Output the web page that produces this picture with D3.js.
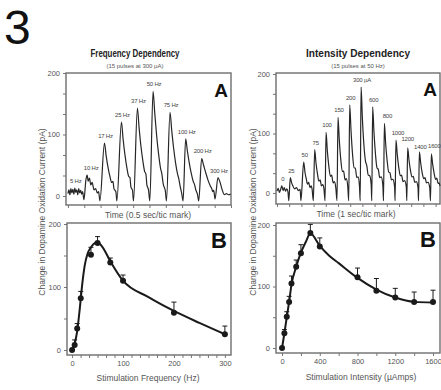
<!DOCTYPE html>
<html>
<head>
<meta charset="utf-8">
<script src="https://cdn.jsdelivr.net/npm/d3@7"></script>
<style>
  body { margin: 0; background: #fff; }
  svg { display: block; font-family: "Liberation Sans", Arial, sans-serif; }
</style>
</head>
<body>
<div id="chart"></div>
<script>
const WIDTH = 441;
const HEIGHT = 390;

// ---- panel A (left): concatenated oxidation-current traces, [time s, current pA]
const freqLabels = ['5 Hz', '10 Hz', '17 Hz', '25 Hz', '37 Hz', '50 Hz', '75 Hz', '100 Hz', '200 Hz', '300 Hz'];
const freqTraces = [
  [[0.0, 4], [0.03, 10], [0.06, 2], [0.09, 12], [0.12, 5], [0.15, 11], [0.18, 3], [0.21, 13], [0.24, 6], [0.27, 10], [0.30, 2], [0.33, 12], [0.36, 5], [0.39, 9], [0.42, 3], [0.45, 7]],
  [[0.49, -6], [0.55, 26], [0.59, 34], [0.62, 24], [0.66, 29], [0.70, 18], [0.74, 22], [0.80, 10], [0.85, 12], [0.90, 5], [0.94, 7]],
  [[0.98, -8], [1.12, 86], [1.17, 66], [1.23, 46], [1.29, 31], [1.34, 22], [1.38, 24], [1.41, 12], [1.47, 7]],
  [[1.50, -8], [1.64, 120], [1.69, 93], [1.75, 66], [1.81, 45], [1.86, 32], [1.90, 30], [1.93, 15], [1.98, 9]],
  [[2.01, -8], [2.13, 143], [2.18, 112], [2.24, 80], [2.30, 56], [2.35, 40], [2.39, 36], [2.42, 18], [2.47, 10]],
  [[2.51, -8], [2.61, 170], [2.66, 136], [2.72, 98], [2.78, 68], [2.84, 45], [2.88, 36], [2.92, 20], [2.99, 7]],
  [[3.02, -8], [3.13, 136], [3.18, 108], [3.24, 78], [3.30, 54], [3.36, 36], [3.40, 28], [3.44, 16], [3.49, 4]],
  [[3.53, -8], [3.61, 93], [3.66, 74], [3.72, 54], [3.78, 37], [3.84, 24], [3.88, 19], [3.92, 10], [3.97, 3]],
  [[4.01, -8], [4.10, 61], [4.16, 50], [4.23, 37], [4.30, 25], [4.37, 16], [4.41, 12], [4.44, 7], [4.47, 9]],
  [[4.51, -5], [4.60, 30], [4.66, 23], [4.73, 10], [4.80, 2], [4.86, 4], [4.92, 2], [4.99, 3]]
];
const freqTimeTicks = [0, 0.5, 1, 1.5, 2, 2.5, 3, 3.5, 4, 4.5, 5];

// ---- panel A (right)
const intLabels = ['0', '25', '50', '75', '100', '150', '200', '300 \u00b5A', '600', '800', '1000', '1200', '1400', '1600'];
const intTraces = [
  [[0.0, 3], [0.1, 8], [0.2, 1], [0.3, 6], [0.4, 12], [0.5, 4], [0.6, 9], [0.7, 3], [0.8, 7], [0.9, 2]],
  [[0.97, -13], [1.09, 26], [1.2, 17], [1.3, 12], [1.45, 7], [1.6, 9], [1.75, 4], [1.9, 6]],
  [[1.96, -13], [2.19, 52], [2.3, 34], [2.4, 24], [2.5, 15], [2.6, 18], [2.7, 9], [2.8, 12], [2.88, 6]],
  [[2.98, -13], [3.09, 73], [3.2, 50], [3.32, 32], [3.44, 20], [3.54, 22], [3.64, 12], [3.75, 14], [3.85, 7]],
  [[3.94, -13], [4.02, 102], [4.13, 70], [4.25, 45], [4.38, 28], [4.48, 30], [4.6, 17], [4.7, 19], [4.82, 9]],
  [[4.92, -13], [5.0, 127], [5.11, 88], [5.23, 56], [5.36, 36], [5.46, 37], [5.58, 22], [5.68, 24], [5.8, 11]],
  [[5.88, -13], [5.96, 148], [6.07, 104], [6.19, 66], [6.32, 42], [6.42, 42], [6.54, 26], [6.64, 27], [6.76, 12]],
  [[6.82, -13], [6.89, 178], [7.0, 125], [7.12, 82], [7.25, 54], [7.36, 46], [7.48, 30], [7.6, 29], [7.72, 14]],
  [[7.77, -13], [7.84, 145], [7.95, 102], [8.07, 66], [8.2, 42], [8.3, 40], [8.42, 26], [8.54, 27], [8.68, 12]],
  [[8.73, -13], [8.8, 117], [8.91, 82], [9.03, 54], [9.16, 35], [9.26, 34], [9.38, 22], [9.5, 23], [9.64, 10]],
  [[9.68, -13], [9.75, 89], [9.86, 64], [9.98, 43], [10.11, 29], [10.21, 30], [10.33, 19], [10.46, 21], [10.6, 10]],
  [[10.64, -13], [10.71, 76], [10.82, 55], [10.94, 38], [11.07, 27], [11.17, 28], [11.29, 18], [11.42, 19], [11.56, 9]],
  [[11.6, -13], [11.67, 69], [11.78, 50], [11.9, 34], [12.03, 24], [12.13, 26], [12.25, 17], [12.38, 18], [12.52, 9]],
  [[12.58, -13], [12.65, 66], [12.76, 48], [12.88, 33], [13.0, 23], [13.1, 25], [13.2, 16], [13.28, 17], [13.36, 12]]
];
const intTimeTicks = [0, 1, 2, 3, 4, 5, 6, 7, 8, 9, 10, 11, 12, 13];

const traceYTicks = [0, 100 / 3, 200 / 3, 100, 400 / 3, 500 / 3, 200];
const traceYLabels = [0, 100, 200];

// ---- panel B (left): peak response vs stimulation frequency
const freqX = [0, 5, 10, 17, 37, 50, 75, 100, 200, 300];
const freqY = [0, 8, 34, 82, 151, 170, 139, 110, 59, 25];
const freqErr = [0, 8, 8, 11, 12, 10, 7, 9, 17, 13];
const freqFitX = [0, 5, 10, 15, 20, 25, 30, 37, 45, 50, 60, 75, 100, 150, 200, 250, 300];
const freqFitY = [0, 10, 30, 65, 105, 135, 152, 163, 170, 171, 163, 141, 110, 84, 62, 43, 25];
const freqXLabels = [0, 100, 200, 300];
const freqXTicks = [0, 16.7, 33.3, 50, 66.7, 83.3, 100, 116.7, 133.3, 150, 166.7, 183.3, 200, 216.7, 233.3, 250, 266.7, 283.3, 300];

// ---- panel B (right): peak response vs stimulation intensity
const intX = [0, 25, 50, 75, 100, 150, 200, 300, 400, 800, 1000, 1200, 1400, 1600];
const intY = [0, 24, 51, 75, 105, 132, 154, 187, 165, 115, 93, 82, 75, 75];
const intErr = [0, 6, 8, 9, 12, 11, 14, 14, 14, 15, 20, 15, 16, 19];
const intFitX = [0, 25, 50, 75, 100, 150, 200, 250, 300, 400, 500, 600, 800, 1000, 1200, 1400, 1600];
const intFitY = [0, 24, 50, 75, 103, 132, 155, 172, 186, 166, 150, 138, 114, 95, 82, 75, 74];
const intXLabels = [0, 400, 800, 1200, 1600];
const intXTicks = [0, 200, 400, 600, 800, 1000, 1200, 1400, 1600];

const doseYTicks = [0, 50, 100, 150, 200];

const INK = '#1a1a1a';
const GREY = '#666';

const svg = d3.select('#chart').append('svg')
  .attr('width', WIDTH)
  .attr('height', HEIGHT);

svg.append('rect').attr('width', WIDTH).attr('height', HEIGHT).attr('fill', '#fff');

// panel geometry
const panels = {
  freqA: { x: d3.scaleLinear().domain([-0.06, 5.0]).range([66, 231]), y: d3.scaleLinear().domain([0, 200]).range([196, 73]), top: 73, bottom: 205 },
  intA: { x: d3.scaleLinear().domain([-0.08, 13.36]).range([276, 440]), y: d3.scaleLinear().domain([0, 200]).range([193, 74]), top: 73, bottom: 204 },
  freqB: { x: d3.scaleLinear().domain([-10, 312]).range([67, 231]), y: d3.scaleLinear().domain([0, 200]).range([350, 224]), top: 223, bottom: 355 },
  intB: { x: d3.scaleLinear().domain([-64, 1674]).range([276, 440]), y: d3.scaleLinear().domain([0, 200]).range([348, 225]), top: 223, bottom: 353 }
};

function drawFrame(p, yTicks, yLabels, xTicks, xLabels) {
  const left = p.x.range()[0];
  const right = p.x.range()[1];

  const ya = svg.append('g')
    .attr('transform', `translate(${left},0)`)
    .call(d3.axisLeft(p.y).tickValues(yTicks).tickSize(3).tickPadding(3)
      .tickFormat((d) => (yLabels.includes(d) ? d : '')));
  const xa = svg.append('g')
    .attr('transform', `translate(0,${p.bottom})`)
    .call(d3.axisBottom(p.x).tickValues(xTicks).tickSize(3).tickPadding(3)
      .tickFormat((d) => (xLabels.includes(d) ? d : '')));

  [ya, xa].forEach((g) => {
    g.select('.domain').remove();
    g.selectAll('line').attr('stroke', GREY).attr('stroke-width', 0.9);
    g.selectAll('text').attr('fill', '#555').attr('font-size', 7.5).attr('font-family', '"Liberation Sans", Arial, sans-serif');
  });

  svg.append('rect')
    .attr('x', left)
    .attr('y', p.top)
    .attr('width', right - left)
    .attr('height', p.bottom - p.top)
    .attr('fill', 'none')
    .attr('stroke', '#6e6e6e')
    .attr('stroke-width', 1.4);
}

function drawTraces(p, traces, labels, nudge) {
  const line = d3.line()
    .x((d) => p.x(d[0]))
    .y((d) => p.y(d[1]))
    .curve(d3.curveMonotoneX);

  svg.append('path')
    .datum(traces.flat())
    .attr('fill', 'none')
    .attr('stroke', '#262626')
    .attr('stroke-width', 1.2)
    .attr('stroke-linejoin', 'round')
    .attr('d', line);

  traces.forEach((seg, i) => {
    const peak = seg.reduce((a, b) => (b[1] > a[1] ? b : a));
    const [dx, dy] = nudge[labels[i]] || [0, 0];
    svg.append('text')
      .attr('x', p.x(peak[0]) + 1 + dx)
      .attr('y', p.y(peak[1]) - 5 + dy)
      .attr('text-anchor', 'middle')
      .attr('font-size', 6)
      .attr('letter-spacing', -0.2)
      .attr('fill', '#444')
      .text(labels[i]);
  });
}

function drawDose(p, xs, ys, errs, fitX, fitY) {
  const fit = d3.line()
    .x((d) => p.x(d[0]))
    .y((d) => p.y(d[1]))
    .curve(d3.curveMonotoneX);

  svg.append('path')
    .datum(d3.zip(fitX, fitY))
    .attr('fill', 'none')
    .attr('stroke', INK)
    .attr('stroke-width', 2)
    .attr('d', fit);

  const pts = d3.zip(xs, ys, errs);
  const g = svg.append('g');
  g.selectAll('line.err')
    .data(pts.filter((d) => d[2] > 0))
    .join('line')
    .attr('x1', (d) => p.x(d[0]))
    .attr('x2', (d) => p.x(d[0]))
    .attr('y1', (d) => p.y(d[1]))
    .attr('y2', (d) => p.y(d[1] + d[2]))
    .attr('stroke', INK)
    .attr('stroke-width', 1);
  g.selectAll('line.cap')
    .data(pts.filter((d) => d[2] > 0))
    .join('line')
    .attr('x1', (d) => p.x(d[0]) - 2.5)
    .attr('x2', (d) => p.x(d[0]) + 2.5)
    .attr('y1', (d) => p.y(d[1] + d[2]))
    .attr('y2', (d) => p.y(d[1] + d[2]))
    .attr('stroke', INK)
    .attr('stroke-width', 1);
  g.selectAll('circle')
    .data(pts)
    .join('circle')
    .attr('cx', (d) => p.x(d[0]))
    .attr('cy', (d) => p.y(d[1]))
    .attr('r', 3)
    .attr('fill', INK);
}

drawFrame(panels.freqA, traceYTicks, traceYLabels, freqTimeTicks, []);
drawFrame(panels.intA, traceYTicks, traceYLabels, intTimeTicks, []);
drawFrame(panels.freqB, doseYTicks, traceYLabels, freqXTicks, freqXLabels);
drawFrame(panels.intB, doseYTicks, traceYLabels, intXTicks, intXLabels);

drawTraces(panels.freqA, freqTraces, freqLabels, { '10 Hz': [3, 0] });
drawTraces(panels.intA, intTraces, intLabels, { '800': [2, 0], '1000': [1, 0], '1200': [-1, -2], '1400': [0, 2], '1600': [2, -1] });
drawDose(panels.freqB, freqX, freqY, freqErr, freqFitX, freqFitY);
drawDose(panels.intB, intX, intY, intErr, intFitX, intFitY);

// panel letters
[['A', 228, 97, 19], ['A', 437, 96, 19], ['B', 227, 248, 22], ['B', 436, 247, 22]].forEach(([t, x, y, s]) => {
  svg.append('text').attr('x', x).attr('y', y).attr('text-anchor', 'end')
    .attr('font-size', s).attr('font-weight', 'bold').attr('fill', '#111').text(t);
});

// figure number
svg.append('text').attr('x', 4).attr('y', 44).attr('font-size', 48).attr('fill', '#111').text('3');

// titles
function title(x, text, len, sub) {
  svg.append('text').attr('x', x).attr('y', 57).attr('text-anchor', 'middle')
    .attr('font-size', 10.5).attr('font-weight', 'bold').attr('fill', '#222')
    .attr('textLength', len).attr('lengthAdjust', 'spacingAndGlyphs').text(text);
  svg.append('text').attr('x', x).attr('y', 67.5).attr('text-anchor', 'middle')
    .attr('font-size', 6).attr('fill', '#555').text(sub);
}
title(135, 'Frequency Dependency', 89, '(15 pulses at 300 \u00b5A)');
title(358, 'Intensity Dependency', 104, '(15 pulses at 50 Hz)');

// axis titles
function label(x, y, text, rotate) {
  svg.append('text')
    .attr('transform', `translate(${x},${y})${rotate ? ' rotate(-90)' : ''}`)
    .attr('text-anchor', 'middle')
    .attr('font-size', 8.5)
    .attr('fill', '#555')
    .text(text);
}
label(45, 212, 'Change in Dopamine Oxidation Current (pA)', true);
label(256, 212, 'Change in Dopamine Oxidation Current (pA)', true);
label(148, 218, 'Time (0.5 sec/tic mark)');
label(356, 217, 'Time (1 sec/tic mark)');
label(148, 381, 'Stimulation Frequency (Hz)');
label(361, 380, 'Stimulation Intensity (\u00b5Amps)');
</script>
</body>
</html>
